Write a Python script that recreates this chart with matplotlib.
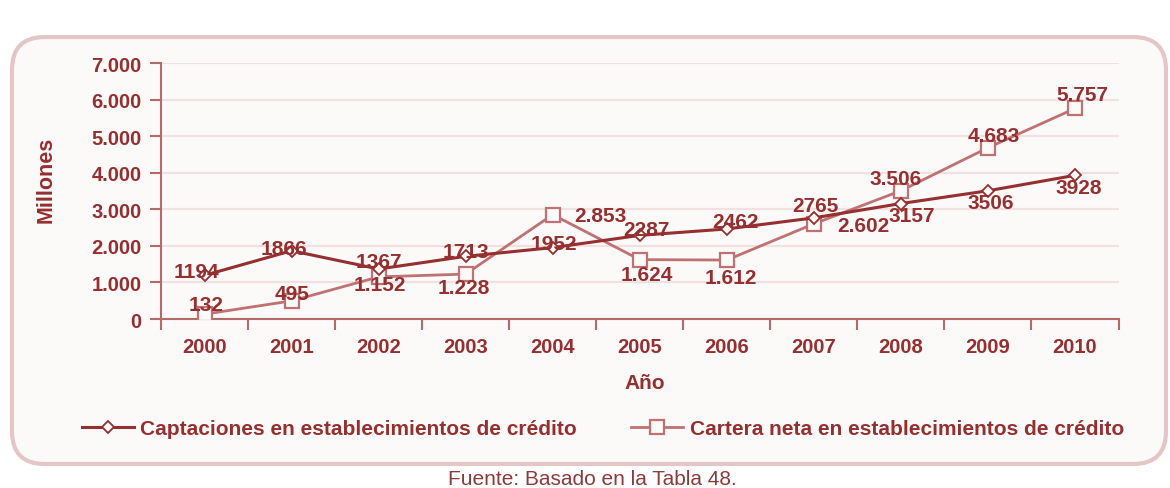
import numpy as np
import matplotlib
matplotlib.use("Agg")
import matplotlib.pyplot as plt
from matplotlib.patches import FancyBboxPatch
from matplotlib.ticker import FuncFormatter

plt.rcParams["font.family"] = ["Liberation Sans", "DejaVu Sans"]

years = ["2000", "2001", "2002", "2003", "2004", "2005",
         "2006", "2007", "2008", "2009", "2010"]
captaciones = [1194, 1866, 1367, 1713, 1952, 2287, 2462, 2765, 3157, 3506, 3928]
cartera = [132, 495, 1152, 1228, 2853, 1624, 1612, 2602, 3506, 4683, 5757]

# desplazamiento de las etiquetas de datos (pixeles)
off_capt = [(-8, 4), (-8, 2), (0, 8), (0, 5), (1, 4), (7, 6),
            (9, 7), (2, 12), (11, -12), (3, -12), (4, -12)]
off_cart = [(2, 10), (0, 7), (1, -8), (-2, -13), (48, -1), (7, -15),
            (4, -17), (50, -2), (-5, 12), (6, 12), (7, 14)]

DARK = "#962f2f"
LIGHT = "#c07272"
SPINE = "#b56a6a"
BG = "#fcf9f9"

fig = plt.figure(figsize=(11.7, 4.89), dpi=100)
fig.patch.set_facecolor("white")

W, H = 1170, 489
frame = FancyBboxPatch((12 / W, 1 - 465 / H), 1154 / W, 427 / H,
                       boxstyle="round,pad=0,rounding_size=0.028",
                       transform=fig.transFigure, facecolor=BG,
                       edgecolor="#e4c6c6", linewidth=3, zorder=0,
                       mutation_aspect=W / H)
fig.patches.append(frame)

ax = fig.add_axes([161 / W, 1 - 320 / H, (1118.5 - 161) / W, 256 / H])
ax.set_zorder(2)
ax.set_facecolor(BG)
x = np.arange(len(years))

ax.plot(x, cartera, color=LIGHT, lw=2, marker="s", ms=10, mfc=BG,
        mec=LIGHT, mew=1.6, zorder=3, label="Cartera neta en establecimientos de crédito")
ax.plot(x, captaciones, color=DARK, lw=2.2, marker="D", ms=6.5, mfc=BG,
        mec=DARK, mew=1.3, zorder=4, label="Captaciones en establecimientos de crédito")

lab_kw = dict(textcoords="offset pixels", ha="center", va="center",
              fontsize=15, fontweight="bold", zorder=5)
for xi, v, off in zip(x, captaciones, off_capt):
    ax.annotate(str(v), (xi, v), xytext=off, color=DARK, **lab_kw)
for xi, v, off in zip(x, cartera, off_cart):
    ax.annotate(f"{v:,}".replace(",", "."), (xi, v), xytext=off, color=DARK, **lab_kw)

ax.set_xlim(-0.5, len(years) - 0.5)
ax.set_ylim(0, 7000)
ax.set_yticks(np.arange(0, 7001, 1000))
ax.yaxis.set_major_formatter(FuncFormatter(lambda v, p: f"{int(v):,}".replace(",", ".")))
ax.set_xticks(x)
ax.set_xticklabels(years)
ax.set_xticks(np.arange(-0.5, len(years)), minor=True)
ax.tick_params(axis="x", which="major", length=0, pad=13)
ax.tick_params(axis="x", which="minor", length=8, width=1.5, color=SPINE)
ax.tick_params(axis="y", length=8, width=1.5, color=SPINE, pad=6)
for lbl in ax.get_xticklabels() + ax.get_yticklabels():
    lbl.set_fontsize(14.5)
    lbl.set_fontweight("bold")
    lbl.set_color(DARK)

ax.grid(axis="y", color="#f1e1e1", lw=1.5)
ax.set_axisbelow(True)
for s in ["top", "right"]:
    ax.spines[s].set_visible(False)
for s in ["left", "bottom"]:
    ax.spines[s].set_color(SPINE)
    ax.spines[s].set_linewidth(1.5)

fig.text(46 / W, 1 - 180 / H, "Millones", rotation=90, ha="center", va="center",
         fontsize=15.5, fontweight="bold", color=DARK)
fig.text(645 / W, 1 - 384 / H, "Año", ha="center", va="center",
         fontsize=15, fontweight="bold", color=DARK)

handles, labels = ax.get_legend_handles_labels()
leg = fig.legend(handles[::-1], labels[::-1], loc="center",
                 bbox_to_anchor=(603 / W, 1 - 430 / H), ncol=2, frameon=False,
                 handlelength=2.5, handletextpad=0.3, columnspacing=2.6,
                 prop={"size": 15, "weight": "bold"})
for t in leg.get_texts():
    t.set_color(DARK)

fig.text(592 / W, 1 - 480 / H, "Fuente: Basado en la Tabla 48.", ha="center",
         va="center", fontsize=15, color="#8a3b3b")

fig.savefig("out.png", dpi=100)
